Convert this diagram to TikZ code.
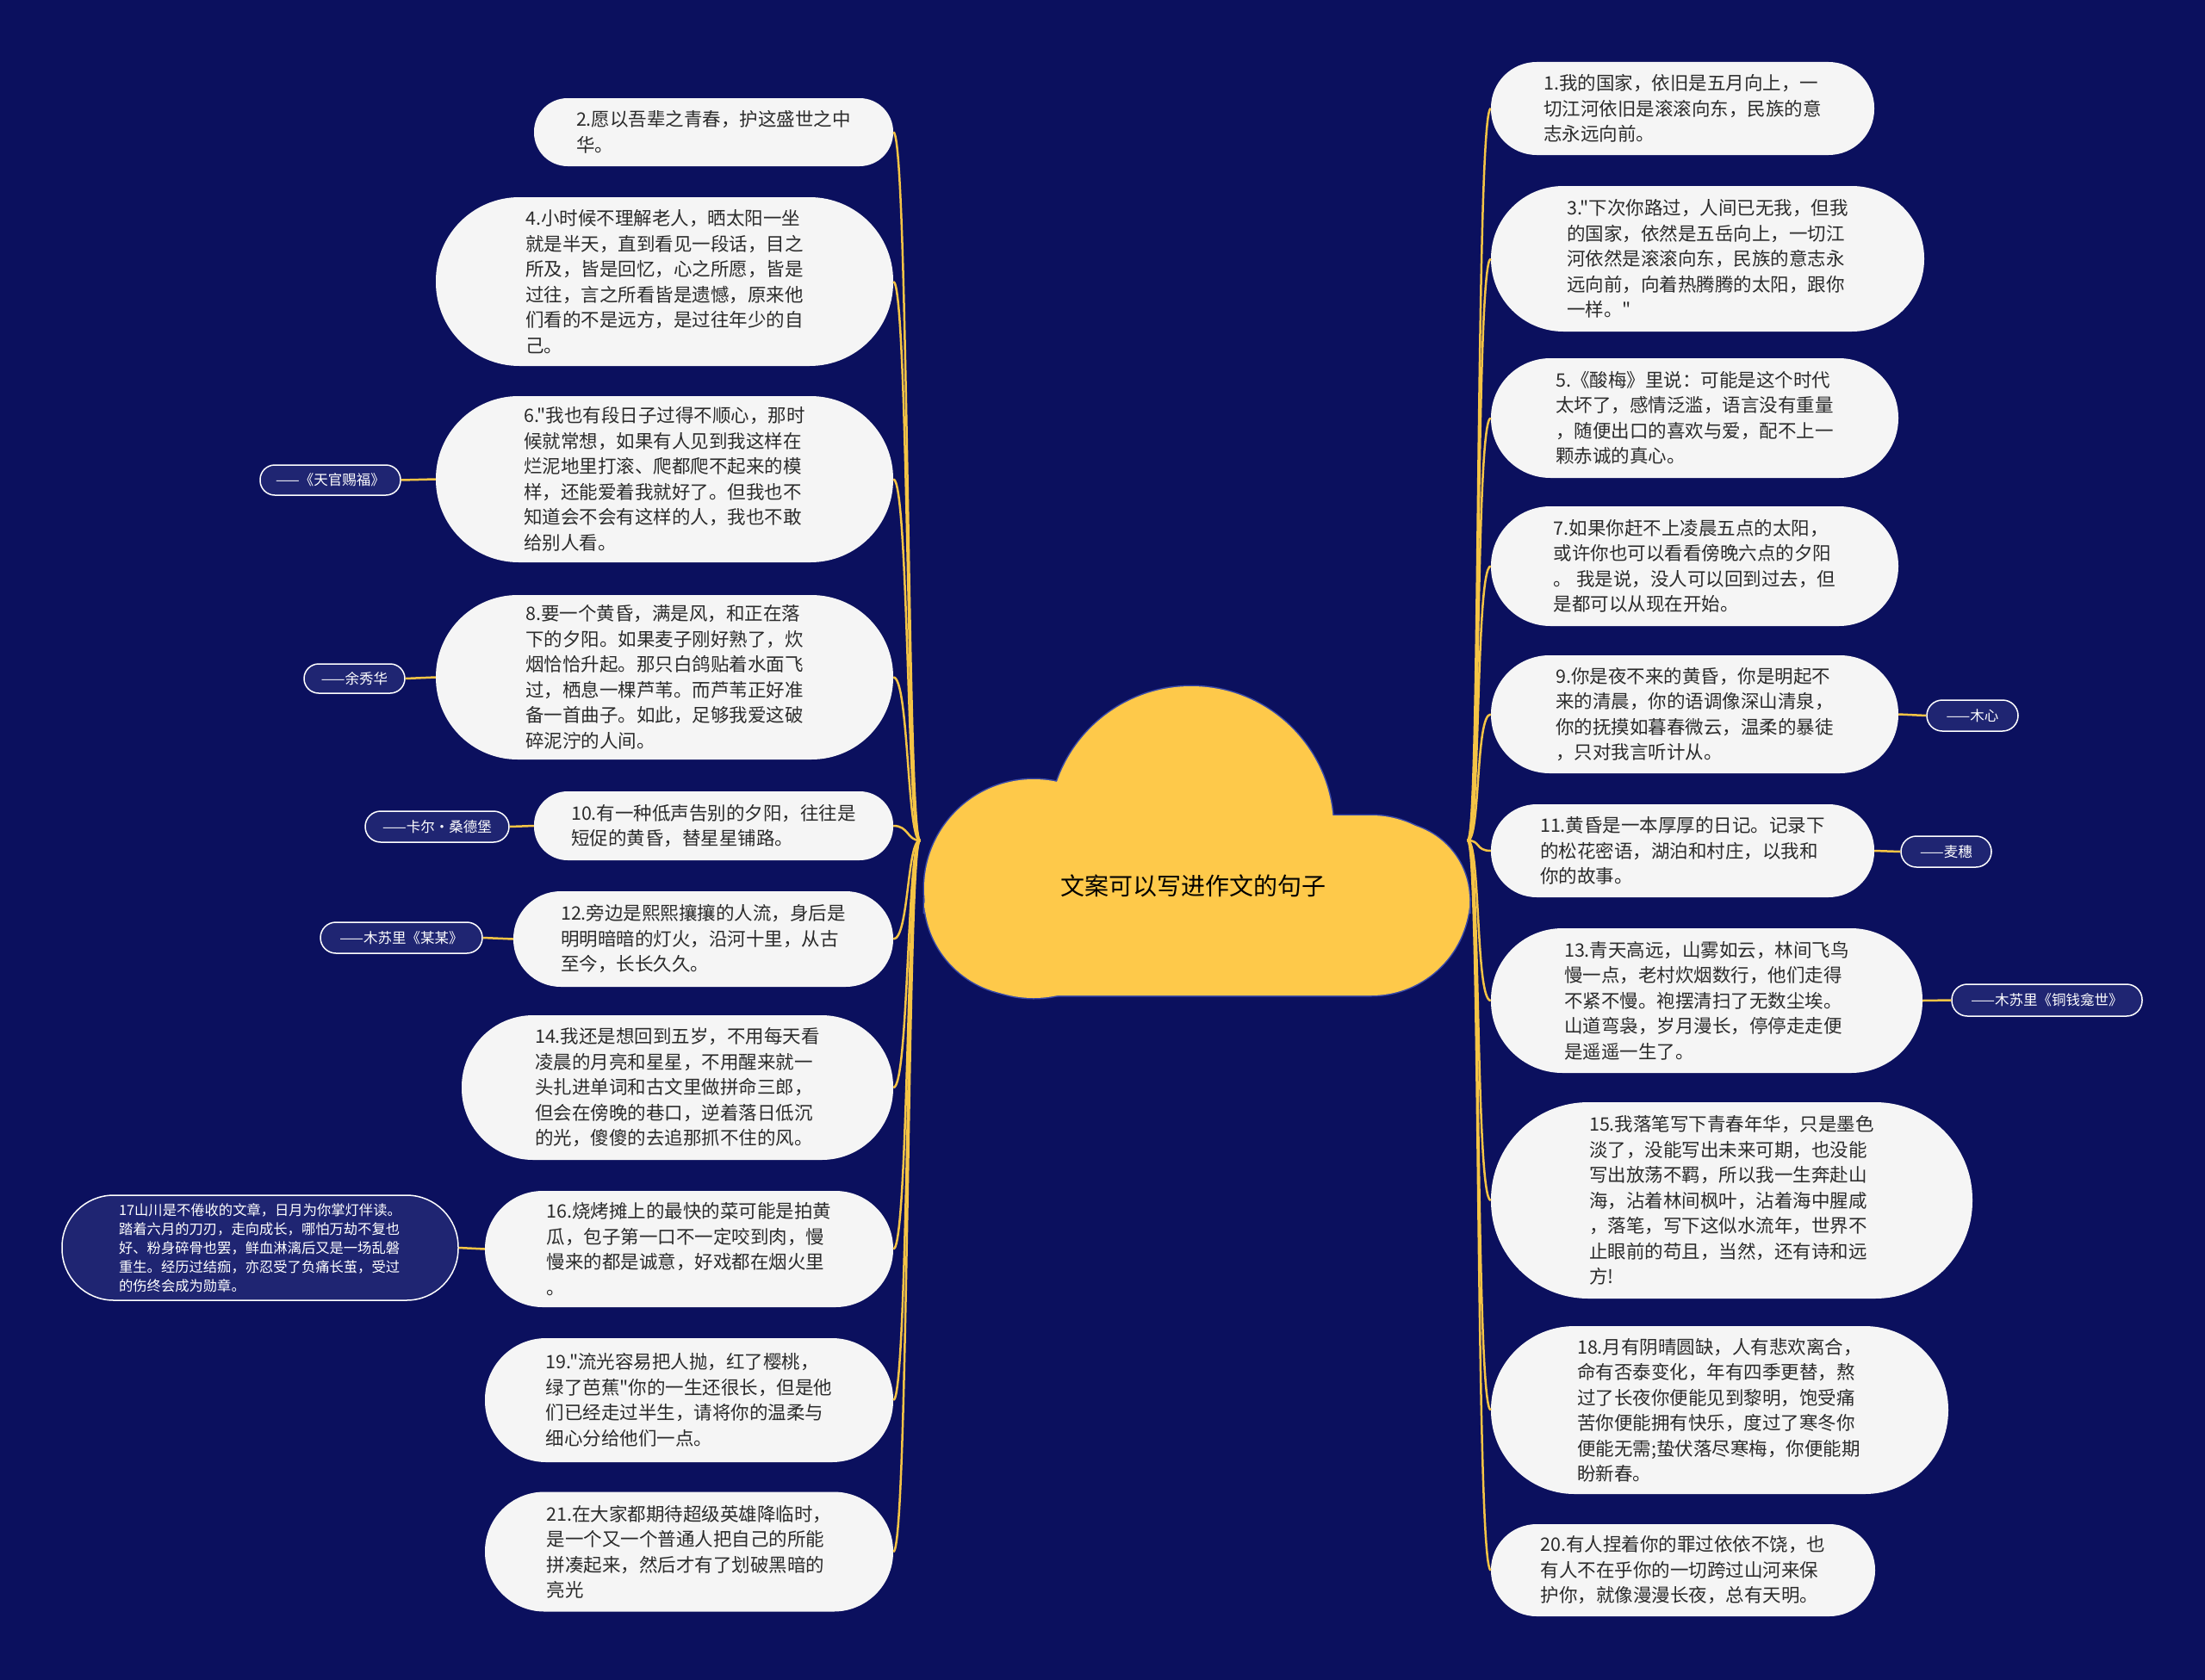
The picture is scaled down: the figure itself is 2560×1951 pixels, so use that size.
\documentclass[tikz,border=0pt]{standalone}
\usepackage{fontspec}
\setmainfont{Noto Sans CJK SC}[Ligatures=TeXOff]
\definecolor{bg}{HTML}{0B105E}
\definecolor{nodefill}{HTML}{F5F5F5}
\definecolor{txt}{HTML}{2B2B2B}
\definecolor{gold}{HTML}{F5C445}
\definecolor{cloudfill}{HTML}{FEC94A}
\definecolor{cloudline}{HTML}{3A4AA8}
\definecolor{labfill}{HTML}{1F2572}
\begin{document}
\begin{tikzpicture}[x=1pt,y=-1pt,
 qbox/.style={fill=nodefill, text=txt, align=left, inner sep=2pt, font=\fontsize{21.5pt}{29.5pt}\selectfont},
 tagbox/.style={fill=labfill, draw=white, line width=1.5pt, text=white, align=center, inner sep=2pt, font=\fontsize{16.5pt}{20pt}\selectfont},
 lnk/.style={draw=gold, line width=2.5pt}]
\useasboundingbox (0,0) rectangle (2560,1951);
\fill[bg] (0,0) rectangle (2560,1951);
% cloud
\begin{scope}[draw=cloudline, line width=3pt]
\draw (1383,962) circle[radius=165pt];
\draw (1200,1032) circle[radius=127pt];
\draw (1616,1045) circle[radius=90pt];
\draw[rounded corners=114pt] (1073,947) rectangle (1706,1156);
\end{scope}
\begin{scope}[fill=cloudfill]
\fill (1383,962) circle[radius=165pt];
\fill (1200,1032) circle[radius=127pt];
\fill (1616,1045) circle[radius=90pt];
\fill[rounded corners=114pt] (1073,947) rectangle (1706,1156);
\end{scope}
\node[font=\fontsize{28pt}{34pt}\selectfont, text=black] (root) at (1385,1029) {文案可以写进作文的句子};
\coordinate (rootL) at (1068,976);
\coordinate (rootR) at (1704,976);
% left quotes
\node[qbox, minimum width=417pt, minimum height=79pt, rounded corners=39pt] (n2) at (828.5,153.5) {2.愿以吾辈之青春，护这盛世之中\\华。};
\node[qbox, minimum width=531pt, minimum height=196pt, rounded corners=97pt] (n4) at (771.5,327) {4.小时候不理解老人，晒太阳一坐\\就是半天，直到看见一段话，目之\\所及，皆是回忆，心之所愿，皆是\\过往，言之所看皆是遗憾，原来他\\们看的不是远方，是过往年少的自\\己。};
\node[qbox, minimum width=531pt, minimum height=193pt, rounded corners=96pt] (n6) at (771.5,556.5) {6."我也有段日子过得不顺心，那时\\候就常想，如果有人见到我这样在\\烂泥地里打滚、爬都爬不起来的模\\样，还能爱着我就好了。但我也不\\知道会不会有这样的人，我也不敢\\给别人看。};
\node[qbox, minimum width=531pt, minimum height=191pt, rounded corners=95pt] (n8) at (771.5,786.5) {8.要一个黄昏，满是风，和正在落\\下的夕阳。如果麦子刚好熟了，炊\\烟恰恰升起。那只白鸽贴着水面飞\\过，栖息一棵芦苇。而芦苇正好准\\备一首曲子。如此，足够我爱这破\\碎泥泞的人间。};
\node[qbox, minimum width=417pt, minimum height=80pt, rounded corners=39pt] (n10) at (828.5,959) {10.有一种低声告别的夕阳，往往是\\短促的黄昏，替星星铺路。};
\node[qbox, minimum width=441pt, minimum height=111pt, rounded corners=55pt] (n12) at (816.5,1090.5) {12.旁边是熙熙攘攘的人流，身后是\\明明暗暗的灯火，沿河十里，从古\\至今，长长久久。};
\node[qbox, minimum width=501pt, minimum height=168pt, rounded corners=83pt] (n14) at (786.5,1263) {14.我还是想回到五岁，不用每天看\\凌晨的月亮和星星，不用醒来就一\\头扎进单词和古文里做拼命三郎，\\但会在傍晚的巷口，逆着落日低沉\\的光，傻傻的去追那抓不住的风。};
\node[qbox, minimum width=474pt, minimum height=135pt, rounded corners=67pt] (n16) at (800,1450.5) {16.烧烤摊上的最快的菜可能是拍黄\\瓜，包子第一口不一定咬到肉，慢\\慢来的都是诚意，好戏都在烟火里\\。};
\node[qbox, minimum width=474pt, minimum height=144pt, rounded corners=71pt] (n19) at (800,1626) {19."流光容易把人抛，红了樱桃，\\绿了芭蕉"你的一生还很长，但是他\\们已经走过半生，请将你的温柔与\\细心分给他们一点。};
\node[qbox, minimum width=474pt, minimum height=139pt, rounded corners=69pt] (n21) at (800,1802) {21.在大家都期待超级英雄降临时，\\是一个又一个普通人把自己的所能\\拼凑起来，然后才有了划破黑暗的\\亮光};
% right quotes
\node[qbox, minimum width=445pt, minimum height=108pt, rounded corners=53pt] (n1) at (1953.5,126) {1.我的国家，依旧是五月向上，一\\切江河依旧是滚滚向东，民族的意\\志永远向前。};
\node[qbox, minimum width=503pt, minimum height=169pt, rounded corners=84pt] (n3) at (1982.5,300.5) {3."下次你路过，人间已无我，但我\\的国家，依然是五岳向上，一切江\\河依然是滚滚向东，民族的意志永\\远向前，向着热腾腾的太阳，跟你\\一样。"};
\node[qbox, minimum width=473pt, minimum height=139pt, rounded corners=69pt] (n5) at (1967.5,485.5) {5.《酸梅》里说：可能是这个时代\\太坏了，感情泛滥，语言没有重量\\，随便出口的喜欢与爱，配不上一\\颗赤诚的真心。};
\node[qbox, minimum width=473pt, minimum height=139pt, rounded corners=69pt] (n7) at (1967.5,657.5) {7.如果你赶不上凌晨五点的太阳，\\或许你也可以看看傍晚六点的夕阳\\。 我是说，没人可以回到过去，但\\是都可以从现在开始。};
\node[qbox, minimum width=473pt, minimum height=137pt, rounded corners=68pt] (n9) at (1967.5,829.5) {9.你是夜不来的黄昏，你是明起不\\来的清晨，你的语调像深山清泉，\\你的抚摸如暮春微云，温柔的暴徒\\，只对我言听计从。};
\node[qbox, minimum width=445pt, minimum height=108pt, rounded corners=53pt] (n11) at (1953.5,988) {11.黄昏是一本厚厚的日记。记录下\\的松花密语，湖泊和村庄，以我和\\你的故事。};
\node[qbox, minimum width=501pt, minimum height=168pt, rounded corners=83pt] (n13) at (1981.5,1162) {13.青天高远，山雾如云，林间飞鸟\\慢一点，老村炊烟数行，他们走得\\不紧不慢。袍摆清扫了无数尘埃。\\山道弯袅，岁月漫长，停停走走便\\是遥遥一生了。};
\node[qbox, minimum width=559pt, minimum height=228pt, rounded corners=113pt] (n15) at (2010.5,1394) {15.我落笔写下青春年华，只是墨色\\淡了，没能写出未来可期，也没能\\写出放荡不羁，所以我一生奔赴山\\海，沾着林间枫叶，沾着海中腥咸\\，落笔，写下这似水流年，世界不\\止眼前的苟且，当然，还有诗和远\\方!};
\node[qbox, minimum width=531pt, minimum height=195pt, rounded corners=97pt] (n18) at (1996.5,1637.5) {18.月有阴晴圆缺，人有悲欢离合，\\命有否泰变化，年有四季更替，熬\\过了长夜你便能见到黎明，饱受痛\\苦你便能拥有快乐，度过了寒冬你\\便能无需;蛰伏落尽寒梅，你便能期\\盼新春。};
\node[qbox, minimum width=446pt, minimum height=107pt, rounded corners=53pt] (n20) at (1954,1823.5) {20.有人捏着你的罪过依依不饶，也\\有人不在乎你的一切跨过山河来保\\护你，就像漫漫长夜，总有天明。};
% labels
\node[tagbox, minimum width=163pt, minimum height=35pt, rounded corners=17pt] (L6) at (383.5,557.5) {——《天官赐福》};
\node[tagbox, minimum width=117pt, minimum height=34pt, rounded corners=17pt] (L8) at (411.5,788) {——余秀华};
\node[tagbox, minimum width=167pt, minimum height=36pt, rounded corners=18pt] (L10) at (507.5,960) {——卡尔·桑德堡};
\node[tagbox, minimum width=188pt, minimum height=36pt, rounded corners=18pt] (L12) at (466,1089) {——木苏里《某某》};
\node[tagbox, align=left, font=\fontsize{16.3pt}{22pt}\selectfont, minimum width=460pt, minimum height=122pt, rounded corners=60pt] (L16) at (302,1449) {17山川是不倦收的文章，日月为你掌灯伴读。\\踏着六月的刀刃，走向成长，哪怕万劫不复也\\好、粉身碎骨也罢，鲜血淋漓后又是一场乱磐\\重生。经历过结痂，亦忍受了负痛长茧，受过\\的伤终会成为勋章。};
\node[tagbox, minimum width=106pt, minimum height=36pt, rounded corners=18pt] (R9) at (2290,831) {——木心};
\node[tagbox, minimum width=105pt, minimum height=36pt, rounded corners=18pt] (R11) at (2259.5,989) {——麦穗};
\node[tagbox, minimum width=221pt, minimum height=37pt, rounded corners=18pt] (R13) at (2376.5,1161.5) {——木苏里《铜钱龛世》};
% connectors
\foreach \n in {n2,n4,n6,n8,n10,n12,n14,n16,n19,n21}
  \draw[lnk] (rootL) .. controls +(-15,0) and +(18,0) .. (\n.east);
\foreach \n in {n1,n3,n5,n7,n9,n11,n13,n15,n18,n20}
  \draw[lnk] (rootR) .. controls +(15,0) and +(-18,0) .. (\n.west);
\draw[lnk] (n6.west) -- (L6.east);
\draw[lnk] (n8.west) -- (L8.east);
\draw[lnk] (n10.west) -- (L10.east);
\draw[lnk] (n12.west) -- (L12.east);
\draw[lnk] (n16.west) -- (L16.east);
\draw[lnk] (n9.east) -- (R9.west);
\draw[lnk] (n11.east) -- (R11.west);
\draw[lnk] (n13.east) -- (R13.west);
\end{tikzpicture}
\end{document}
